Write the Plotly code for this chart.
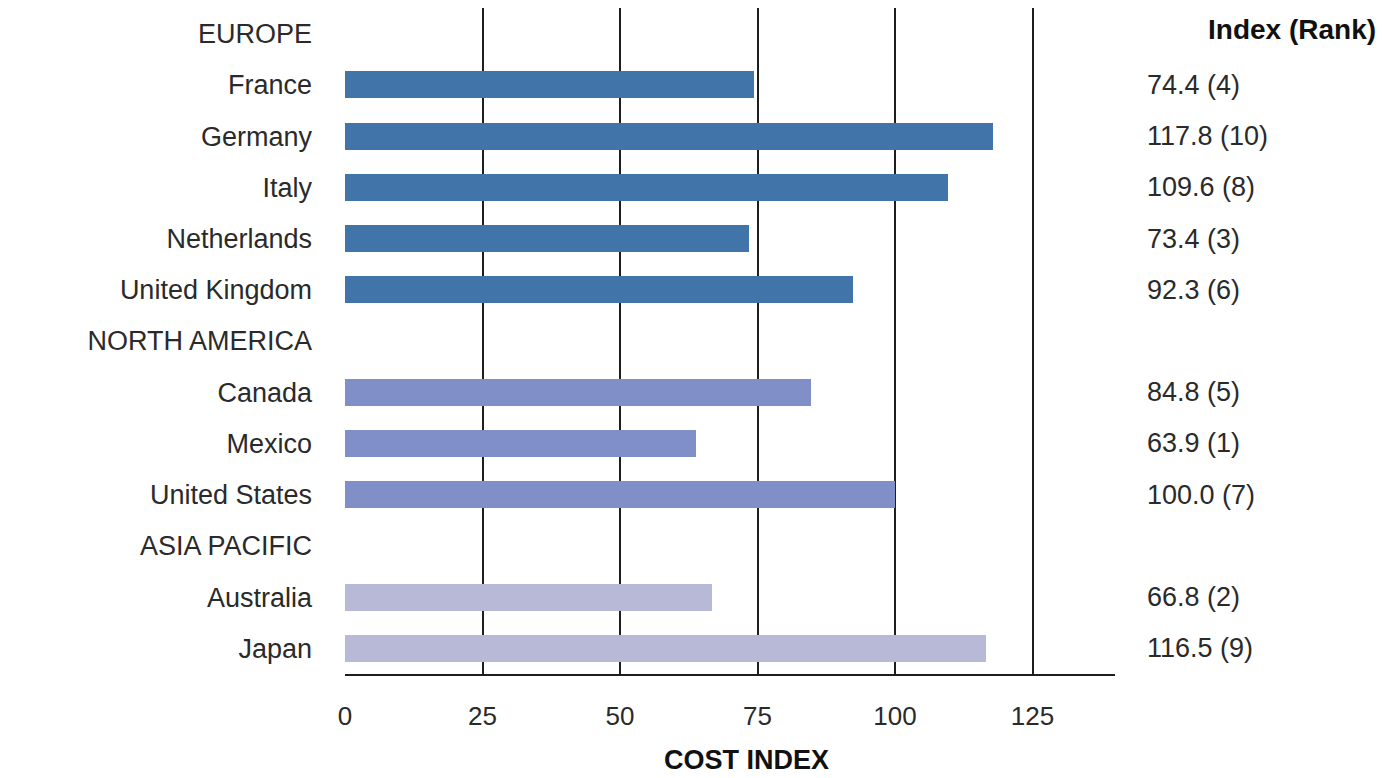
import plotly.graph_objects as go

# Row order of the chart (region headers have no bar)
categories = ["EUROPE", "France", "Germany", "Italy", "Netherlands", "United Kingdom",
              "NORTH AMERICA", "Canada", "Mexico", "United States",
              "ASIA PACIFIC", "Australia", "Japan"]

europe_countries = ["France", "Germany", "Italy", "Netherlands", "United Kingdom"]
europe_index = [74.4, 117.8, 109.6, 73.4, 92.3]
europe_rank = [4, 10, 8, 3, 6]

na_countries = ["Canada", "Mexico", "United States"]
na_index = [84.8, 63.9, 100.0]
na_rank = [5, 1, 7]

ap_countries = ["Australia", "Japan"]
ap_index = [66.8, 116.5]
ap_rank = [2, 9]

x_ticks = [0, 25, 50, 75, 100, 125]

FONT = "Liberation Sans, Arial, Helvetica, sans-serif"
INK = "#1e1e1e"
TXT = "#2a2a2a"

groups = [
    (europe_countries, europe_index, europe_rank, "#4174a8"),
    (na_countries, na_index, na_rank, "#808fc8"),
    (ap_countries, ap_index, ap_rank, "#b8b9d6"),
]

fig = go.Figure()
annotations = []
for names, vals, ranks, color in groups:
    fig.add_trace(go.Bar(
        y=names, x=vals, orientation="h", width=0.53,
        marker=dict(color=color, line=dict(width=0)),
        hoverinfo="x+y",
    ))
    for n, v, r in zip(names, vals, ranks):
        annotations.append(dict(
            x=1.039, xref="paper", y=n, yref="y",
            text=f"{v:.1f} ({r})", showarrow=False,
            xanchor="left", yanchor="middle",
            font=dict(family=FONT, size=27, color=TXT),
        ))

annotations.append(dict(
    x=1.3416, xref="paper", y=0.9675, yref="paper",
    text="<b>Index (Rank)</b>", showarrow=False,
    xanchor="right", yanchor="middle",
    font=dict(family=FONT, size=28, color="#111"),
))
annotations.append(dict(
    x=0.522, xref="paper", y=-0.129, yref="paper",
    text="<b>COST INDEX</b>", showarrow=False,
    xanchor="center", yanchor="middle",
    font=dict(family=FONT, size=27, color="#111"),
))

fig.update_layout(
    width=1382, height=778,
    margin=dict(l=345, r=267, t=8, b=104, pad=0),
    paper_bgcolor="white", plot_bgcolor="white",
    showlegend=False, bargap=0,
    font=dict(family=FONT, color=TXT),
    annotations=annotations,
    xaxis=dict(
        range=[0, 140], tickvals=x_ticks, ticktext=[str(t) for t in x_ticks],
        showgrid=True, gridcolor=INK, gridwidth=2,
        zeroline=False, showline=True, linecolor=INK, linewidth=2,
        ticks="", ticklabelstandoff=18,
        tickfont=dict(family=FONT, size=26, color=TXT),
        fixedrange=True,
    ),
    yaxis=dict(
        type="category", categoryorder="array", categoryarray=categories,
        tickvals=categories, range=[12.5, -0.5],
        showgrid=False, zeroline=False, showline=False,
        ticks="", ticklabelstandoff=32,
        tickfont=dict(family=FONT, size=27, color=TXT),
        fixedrange=True,
    ),
)

fig.write_html("out.html")
